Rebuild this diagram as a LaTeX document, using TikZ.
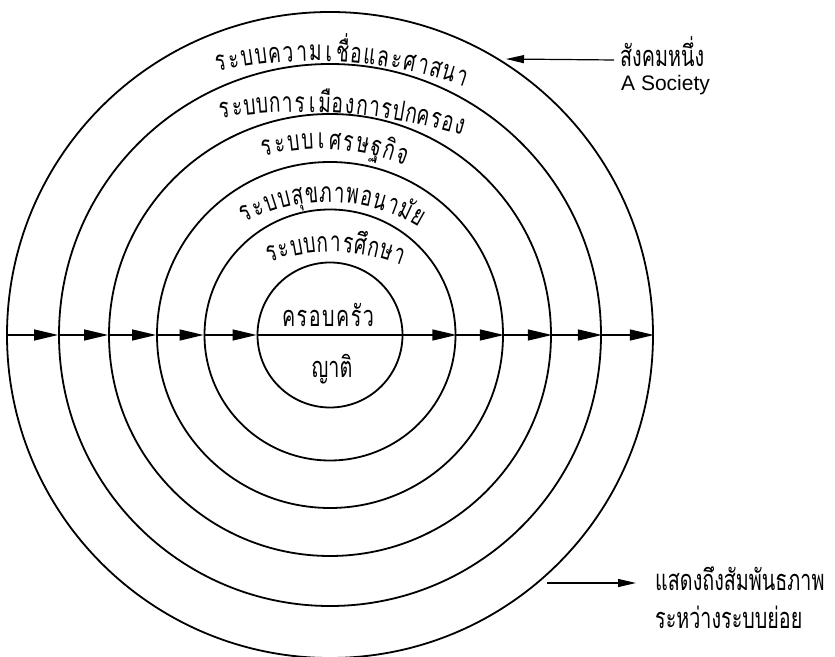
\documentclass[tikz,border=0pt]{standalone}
\usepackage{fontspec}
\setmainfont{Liberation Sans}
\newfontfamily\thaifont[Script=Thai,FakeStretch=0.68]{Loma}
\usetikzlibrary{arrows.meta}

% glyphs set one by one along an arc: name, centre x, centre y, radius, start angle, step, list
\newcommand{\arctext}[7]{%
  \foreach \ch [count=\k from 0] in {#7} {
    \pgfmathsetmacro\ang{#5-\k*#6}
    \node[glyph, rotate=\ang-90] (#1-\k) at ([shift={(#2,#3)}]\ang:#4) {\ch};
  }}

\begin{document}
\begin{tikzpicture}[x=1pt, y=1pt,
  ring/.style={draw, circle, line width=1.8pt, inner sep=0pt, minimum size=#1},
  flow/.style={line width=1.3pt, -{Triangle[length=24pt,width=11pt]}},
  pointer/.style={line width=1.2pt, -{Triangle[length=18pt,width=8pt]}},
  glyph/.style={font=\thaifont\fontsize{28}{28}\selectfont, inner sep=0pt, anchor=base},
  inner/.style={font=\thaifont\fontsize{29}{29}\selectfont, inner sep=0pt, anchor=base},
  note/.style={font=\thaifont\fontsize{29}{29}\selectfont, anchor=base west,
    inner sep=6pt, text height=17pt, text depth=3pt}]
  \useasboundingbox (0,0) rectangle (835,656);

  % the six nested systems
  \coordinate (ctr) at (330,321);
  \foreach \r [count=\i] in {72.5,125.5,173,221,271,323} {
    \pgfmathsetmacro\d{2*\r}
    \node[ring=\d pt] (c\i) at (ctr) {};
  }

  % relations across the systems
  \foreach \a/\b in {6/5,5/4,4/3,3/2,2/1}
    \draw[flow] (c\a.west) -- (c\b.west);
  \draw[line width=1.3pt] (c1.west) -- (c1.east);
  \foreach \a/\b in {1/2,2/3,3/4,4/5,5/6}
    \draw[flow] (c\a.east) -- (c\b.east);

  % ring labels
  \arctext{bel}{315}{145}{450}{101.9}{1.705}{ร,ะ,บ,บ,ค,ว,า,ม,เ,ชื่,อ,แ,ล,ะ,ศ,า,ส,น,า}
  \arctext{pol}{303}{-20}{564}{97.85}{1.253}{ร,ะ,บ,บ,ก,า,ร,เ,มื,อ,ง,ก,า,ร,ป,ก,ค,ร,อ,ง}
  \arctext{eco}{320}{277}{230}{103.07}{3.342}{ร,ะ,บ,บ,เ,ศ,ร,ษ,ฐ,กิ,จ}
  \arctext{hea}{328}{278}{176}{116.6}{4.3}{ร,ะ,บ,บ,สุ,ข,ภ,า,พ,อ,น,า,มั,ย}
  \arctext{edu}{332}{214}{190}{107.8}{3.75}{ร,ะ,บ,บ,ก,า,ร,ศึ,ก,ษ,า}

  \node[inner] (fam) at (328,329) {ค\kern1.5pt ร\kern1.5pt อ\kern1.5pt บ\kern1.5pt ค\kern1.5pt รั\kern1.5pt ว};
  \node[inner] (kin) at (332,278) {ญาติ};

  % side notes
  \node[note] (soc) at (614,589) {สังคมหนึ่ง};
  \node[note, font=\fontsize{21}{21}\selectfont] (soc2) at (615,565) {A Society};
  \coordinate (top) at (506,597);
  \draw[pointer] (soc.west) -- (top);

  \node[note] (rel) at (649,66) {แสดงถึงสัมพันธภาพ};
  \node[note] (rel2) at (649,28) {ระหว่างระบบย่อย};
  \coordinate (low) at (547,73);
  \draw[pointer, shorten >=13pt] (low) -- (rel.west);
\end{tikzpicture}
\end{document}
